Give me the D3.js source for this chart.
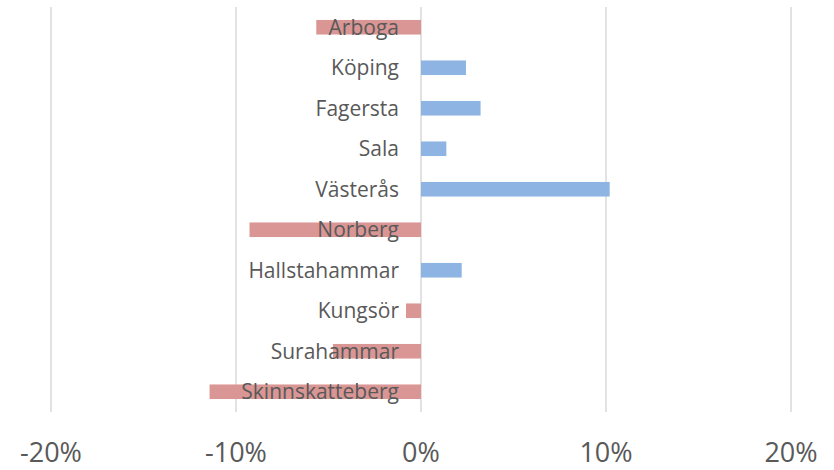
<!DOCTYPE html>
<html>
<head>
<meta charset="utf-8">
<script src="https://cdn.jsdelivr.net/npm/d3@7"></script>
<style>
  body { margin: 0; background: #fff; }
  text { font-family: "Open Sans", sans-serif; fill: #595959; }
</style>
</head>
<body>
<svg id="chart"></svg>
<script>
var kommuner = ["Arboga", "Köping", "Fagersta", "Sala", "Västerås", "Norberg",
  "Hallstahammar", "Kungsör", "Surahammar", "Skinnskatteberg"];
var forandring = [-0.0566, 0.0243, 0.0322, 0.0137, 0.102, -0.0927, 0.022, -0.0081, -0.0476, -0.1143];
var ticks = [-0.2, -0.1, 0, 0.1, 0.2];

const width = 834, height = 470;
const margin = { top: 7, right: 43, bottom: 58, left: 51 };

const svg = d3.select("#chart")
  .attr("width", width)
  .attr("height", height);

const x = d3.scaleLinear()
  .domain([-0.2, 0.2])
  .range([margin.left, width - margin.right]);

const y = d3.scaleBand()
  .domain(kommuner)
  .range([margin.top, height - margin.bottom])
  .paddingInner(0.64)
  .paddingOuter(0.32);

// excel style: plain hyphen instead of unicode minus
const pct = d => d3.format(".0%")(d).replace("−", "-");

// gridlines
svg.append("g")
  .selectAll("line")
  .data(ticks)
  .join("line")
  .attr("x1", d => x(d))
  .attr("x2", d => x(d))
  .attr("y1", margin.top)
  .attr("y2", height - margin.bottom)
  .attr("stroke", "#d9d9d9")
  .attr("stroke-width", 1.5);

// bars
svg.append("g")
  .selectAll("rect")
  .data(kommuner)
  .join("rect")
  .attr("x", (d, i) => x(Math.min(0, forandring[i])))
  .attr("width", (d, i) => Math.abs(x(forandring[i]) - x(0)))
  .attr("y", d => y(d))
  .attr("height", y.bandwidth())
  .attr("fill", (d, i) => forandring[i] < 0 ? "#da9694" : "#8eb4e3");

// category labels, drawn over bars
svg.append("g")
  .selectAll("text")
  .data(kommuner)
  .join("text")
  .attr("x", x(0) - 22)
  .attr("y", d => y(d) + y.bandwidth() / 2)
  .attr("dy", "0.35em")
  .attr("text-anchor", "end")
  .style("font-size", "21px")
  .text(d => d);

// x axis tick labels
svg.append("g")
  .selectAll("text")
  .data(ticks)
  .join("text")
  .attr("x", d => x(d))
  .attr("y", 462)
  .attr("text-anchor", "middle")
  .style("font-size", "27px")
  .text(pct);
</script>
</body>
</html>
